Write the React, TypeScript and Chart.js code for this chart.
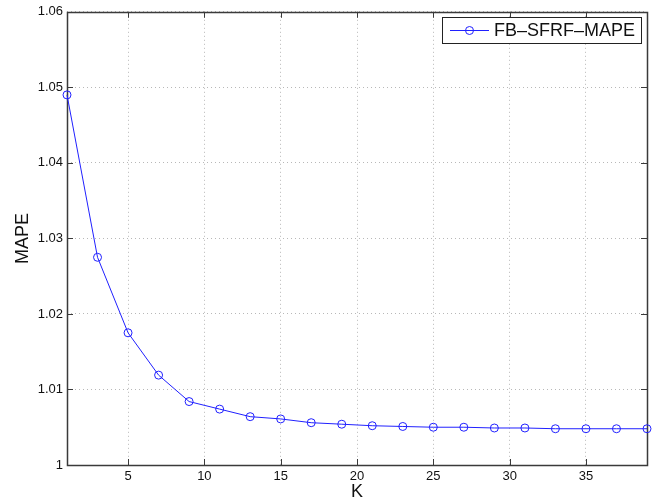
import React, { useEffect, useRef } from "react";
import { Chart, registerables } from "chart.js";

Chart.register(...registerables);

const kValues = [1, 3, 5, 7, 9, 11, 13, 15, 17, 19, 21, 23, 25, 27, 29, 31, 33, 35, 37, 39];
const mapeValues = [
  1.049, 1.0275, 1.0175, 1.0119, 1.0084, 1.0074, 1.0064, 1.0061, 1.0056, 1.0054,
  1.0052, 1.0051, 1.005, 1.005, 1.0049, 1.0049, 1.0048, 1.0048, 1.0048, 1.0048,
];
const xTickValues = [5, 10, 15, 20, 25, 30, 35];
const yTickValues = [1, 1.01, 1.02, 1.03, 1.04, 1.05, 1.06];
const yTickLabels = ["1", "1.01", "1.02", "1.03", "1.04", "1.05", "1.06"];
const seriesLabel = "FB–SFRF–MAPE";
const xTitle = "K";
const yTitle = "MAPE";

const FONT = "'Liberation Sans', Arial, Helvetica, sans-serif";
const BLUE = "#2020ff";
const AXIS = "#3a3a3a";

const framePlugin = {
  id: "frame",
  beforeDatasetsDraw(chart: any) {
    const { ctx, chartArea: a, scales } = chart;
    ctx.save();
    ctx.strokeStyle = AXIS;
    ctx.lineWidth = 1;
    const tl = 6;
    ctx.beginPath();
    for (const v of xTickValues) {
      const x = Math.round(scales.x.getPixelForValue(v)) + 0.5;
      ctx.moveTo(x, a.bottom);
      ctx.lineTo(x, a.bottom - tl);
      ctx.moveTo(x, a.top);
      ctx.lineTo(x, a.top + tl);
    }
    for (const v of yTickValues) {
      const y = Math.round(scales.y.getPixelForValue(v)) + 0.5;
      ctx.moveTo(a.left, y);
      ctx.lineTo(a.left + tl, y);
      ctx.moveTo(a.right, y);
      ctx.lineTo(a.right - tl, y);
    }
    ctx.stroke();
    ctx.lineWidth = 1.5;
    ctx.strokeRect(Math.round(a.left) + 0.5, Math.round(a.top) + 0.5, Math.round(a.right - a.left), Math.round(a.bottom - a.top));
    ctx.restore();
  },
  afterDraw(chart: any) {
    const { ctx, chartArea: a } = chart;
    ctx.save();
    const bx = 442.5, by = 17.5, bw = 199, bh = 26;
    ctx.fillStyle = "#ffffff";
    ctx.fillRect(bx, by, bw, bh);
    ctx.strokeStyle = "#222";
    ctx.lineWidth = 1;
    ctx.strokeRect(bx, by, bw, bh);
    const cy = by + bh / 2;
    ctx.strokeStyle = BLUE;
    ctx.beginPath();
    ctx.moveTo(450, cy);
    ctx.lineTo(489, cy);
    ctx.stroke();
    ctx.beginPath();
    ctx.arc(469.5, cy, 4, 0, Math.PI * 2);
    ctx.stroke();
    ctx.fillStyle = "#111";
    ctx.font = `18px ${FONT}`;
    ctx.textBaseline = "middle";
    ctx.textAlign = "left";
    ctx.fillText(seriesLabel, 494, cy + 1);
    ctx.restore();
  },
};

export default function App() {
  const ref = useRef<HTMLCanvasElement>(null);
  useEffect(() => {
    document.body.style.margin = "0";
    const chart = new Chart(ref.current!, {
      type: "line",
      data: {
        datasets: [
          {
            label: seriesLabel,
            data: kValues.map((k, i) => ({ x: k, y: mapeValues[i] })),
            borderColor: BLUE,
            borderWidth: 1,
            pointRadius: 4,
            pointBorderWidth: 1,
            pointBackgroundColor: "rgba(0,0,0,0)",
            pointBorderColor: BLUE,
            tension: 0,
            clip: false as any,
          },
        ],
      },
      options: {
        responsive: false,
        animation: false,
        layout: { padding: { top: 11, right: 9, left: 0, bottom: 0 } },
        plugins: { legend: { display: false }, tooltip: { enabled: false } },
        scales: {
          x: {
            type: "linear",
            min: 1,
            max: 39,
            afterBuildTicks: (s: any) => {
              s.ticks = xTickValues.map((v) => ({ value: v }));
            },
            afterFit: (s: any) => {
              s.height = 38;
            },
            ticks: {
              font: { family: FONT, size: 13 },
              color: "#111",
              padding: 4,
              maxRotation: 0,
              autoSkip: false,
            },
            grid: {
              color: "#b8b8b8",
              drawTicks: false,
              tickBorderDash: [1, 3],
              borderDash: [1, 3],
              lineWidth: 1,
            } as any,
            border: { display: false, dash: [1, 3] } as any,
            title: {
              display: true,
              text: xTitle,
              font: { family: FONT, size: 18 },
              color: "#111",
              padding: { top: 0, bottom: 0 },
            },
          },
          y: {
            type: "linear",
            min: 1,
            max: 1.06,
            afterBuildTicks: (s: any) => {
              s.ticks = yTickValues.map((v) => ({ value: v }));
            },
            afterFit: (s: any) => {
              s.width = 67;
            },
            ticks: {
              font: { family: FONT, size: 13 },
              color: "#111",
              padding: 4,
              autoSkip: false,
              callback: (_v: any, i: number) => yTickLabels[i],
            },
            grid: {
              color: "#b8b8b8",
              drawTicks: false,
              lineWidth: 1,
            },
            border: { display: false, dash: [1, 3] } as any,
            title: {
              display: true,
              text: yTitle,
              font: { family: FONT, size: 18 },
              color: "#111",
              padding: { top: 12, bottom: 0 },
            },
          },
        },
      } as any,
      plugins: [framePlugin],
    });
    return () => chart.destroy();
  }, []);
  return (
    <div style={{ position: "absolute", left: 0, top: 0, width: 656, height: 503 }}>
      <canvas ref={ref} width={656} height={503} style={{ display: "block" }} />
    </div>
  );
}
